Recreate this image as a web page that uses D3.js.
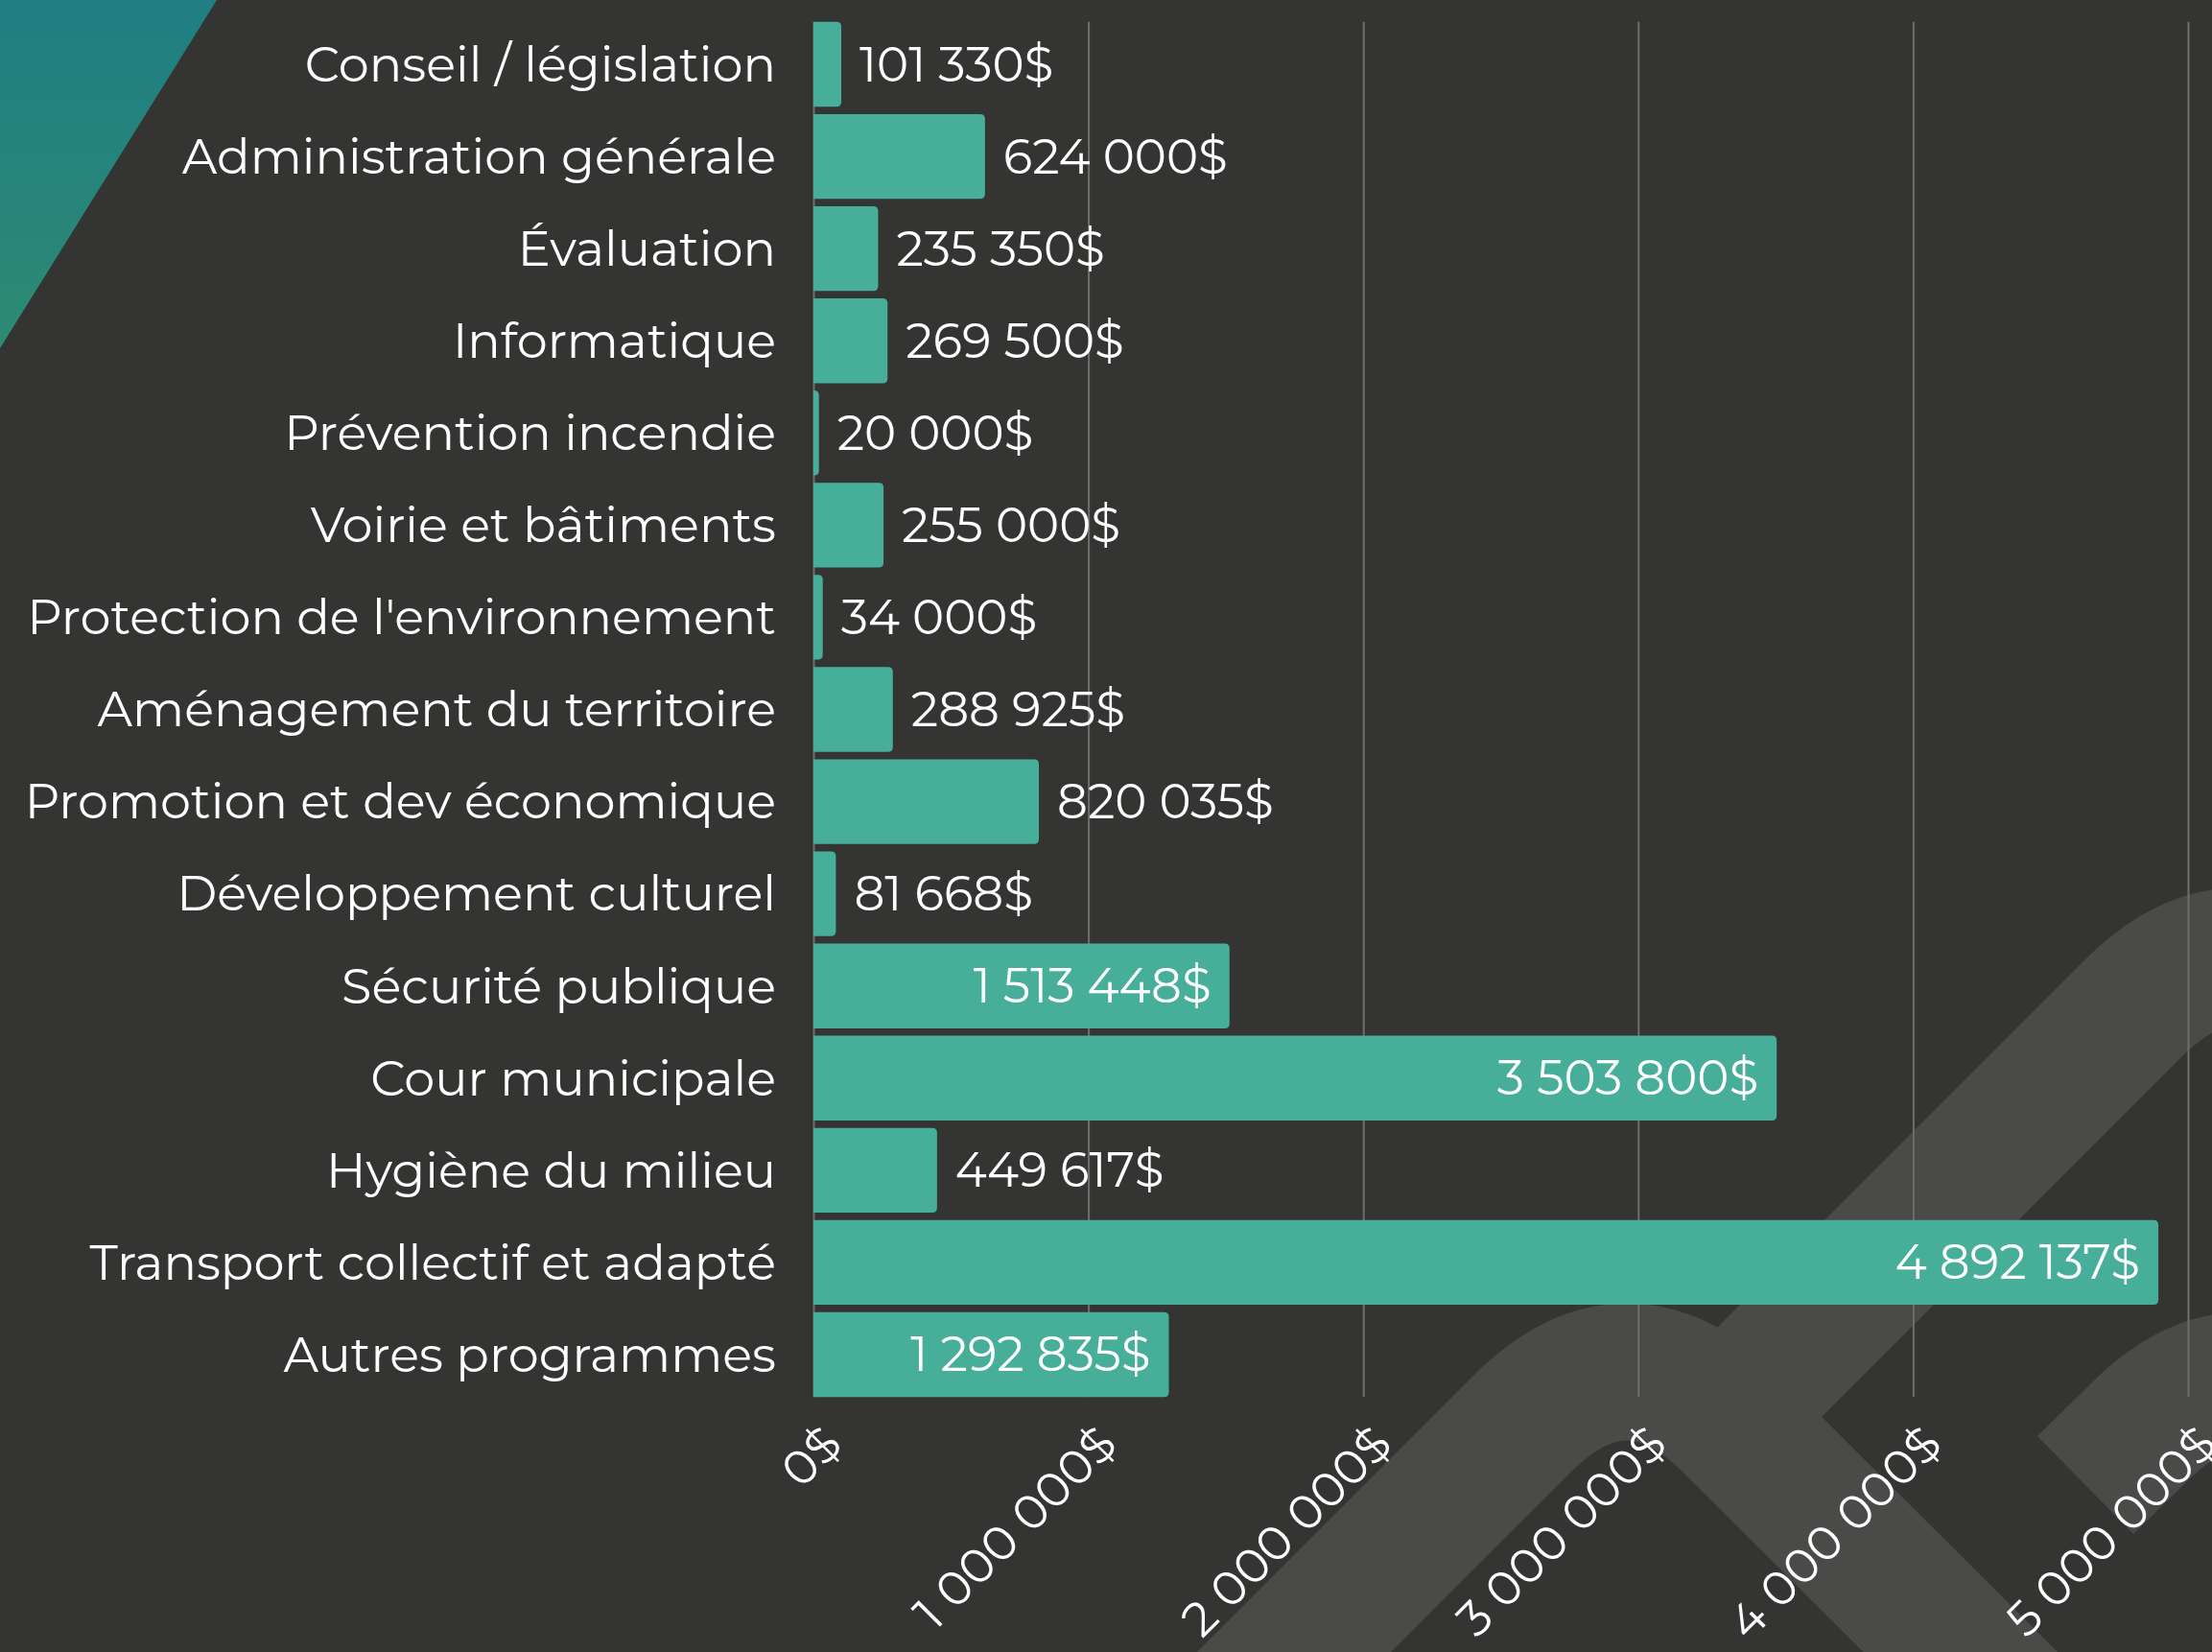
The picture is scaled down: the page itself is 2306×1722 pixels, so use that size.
<html>
<head>
<meta charset="utf-8">
<style>
  body{margin:0;background:#343433}
  svg{display:block}
  .lbl{fill:#fff;font-family:'Montserrat','Noto Sans',sans-serif;font-weight:400}
</style>
</head>
<body>
<div id="chart"></div>
<script src="https://cdn.jsdelivr.net/npm/d3@7"></script>
<script>
(function () {

  var categories = [
    'Conseil / législation', 'Administration générale', 'Évaluation',
    'Informatique', 'Prévention incendie', 'Voirie et bâtiments',
    "Protection de l'environnement", 'Aménagement du territoire',
    'Promotion et dev économique', 'Développement culturel',
    'Sécurité publique', 'Cour municipale', 'Hygiène du milieu',
    'Transport collectif et adapté', 'Autres programmes'
  ];
  var values = [101330, 624000, 235350, 269500, 20000, 255000, 34000, 288925,
                820035, 81668, 1513448, 3503800, 449617, 4892137, 1292835];
  var tickValues = [0, 1000000, 2000000, 3000000, 4000000, 5000000];

  var
    width   = 2306,
    height  = 1722,
    x0      = 848,
    x1      = 2281,
    yTop    = 19,
    yBot    = 1460,
    barCol  = '#46ae99',
    decoCol = '#4a4a49',
    rows    = categories.map(function (c, i) { return {cat: c, val: values[i]}; });

  var fr = d3.formatLocale({decimal: ',', thousands: ' ', grouping: [3], currency: ['', '$']});
  var money = fr.format('$,.0f');

  var xScale = d3.scaleLinear().domain([0, 5000000]).range([x0, x1]);
  var yScale = d3.scaleBand().domain(categories).range([yTop, yBot])
    .paddingInner(0.08).paddingOuter(0.04);

  var svg = d3.select('#chart').append('svg')
    .attr('width', width)
    .attr('height', height);

  svg.append('rect').attr('width', width).attr('height', height).attr('fill', '#343433');

  // teal corner
  var grad = svg.append('defs').append('linearGradient')
    .attr('id', 'teal').attr('x1', 0).attr('y1', 0).attr('x2', 0).attr('y2', 1);
  grad.append('stop').attr('offset', '0%').attr('stop-color', '#1f7f82');
  grad.append('stop').attr('offset', '100%').attr('stop-color', '#2d8a73');
  svg.append('path').attr('d', 'M0,0 L226,0 L0,363 Z').attr('fill', 'url(#teal)');

  // background logo strokes
  var deco = svg.append('g')
    .attr('fill', 'none')
    .attr('stroke', decoCol)
    .attr('stroke-width', 143);
  deco.append('path').attr('d', 'M1271,1800 L1586,1485 Q1696,1375 1806,1485 L2122,1800');
  deco.append('path').attr('d', 'M1798,1477 L2223,1052 Q2333,942 2443,1052 L2600,1209');
  deco.append('path').attr('d', 'M2174,1548 L2229,1494 Q2339,1384 2449,1494 L2700,1745');

  // grid + tick labels
  var plotTop = yScale(categories[0]);
  var plotBot = yScale(categories[categories.length - 1]) + yScale.bandwidth();

  var axis = d3.axisBottom(xScale)
    .tickValues(tickValues)
    .tickSize(-(plotBot - plotTop))
    .tickFormat(money);

  var ax = svg.append('g')
    .attr('transform', 'translate(0,' + plotBot + ')')
    .call(axis);
  ax.select('.domain').remove();
  ax.selectAll('.tick line')
    .attr('stroke', '#6e6e6c')
    .attr('stroke-width', 2);
  ax.selectAll('.tick text')
    .attr('class', 'lbl')
    .attr('fill', '#fff')
    .style('font-size', '50px')
    .attr('text-anchor', 'end')
    .attr('dy', null)
    .attr('y', 0)
    .attr('transform', 'translate(32,52) rotate(-45)');

  // bars, right corners rounded
  function barPath(d) {
    var l = xScale(0), r = xScale(d.val), t = yScale(d.cat), b = t + yScale.bandwidth();
    var rad = Math.min(5, r - l);
    return 'M' + l + ',' + t + ' L' + (r - rad) + ',' + t +
      ' Q' + r + ',' + t + ' ' + r + ',' + (t + rad) +
      ' L' + r + ',' + (b - rad) +
      ' Q' + r + ',' + b + ' ' + (r - rad) + ',' + b +
      ' L' + l + ',' + b + ' Z';
  }

  svg.append('g').selectAll('path')
    .data(rows)
    .join('path')
    .attr('d', barPath)
    .attr('fill', barCol);

  // category labels
  svg.append('g').selectAll('text')
    .data(rows)
    .join('text')
    .attr('class', 'lbl')
    .attr('x', x0 - 39)
    .attr('y', function (d) { return yScale(d.cat) + yScale.bandwidth() / 2; })
    .attr('dy', '0.35em')
    .attr('text-anchor', 'end')
    .style('font-size', '51px')
    .text(function (d) { return d.cat; });

  // value labels
  svg.append('g').selectAll('text')
    .data(rows)
    .join('text')
    .attr('class', 'lbl')
    .attr('x', function (d) { return d.val >= 1000000 ? xScale(d.val) - 19 : xScale(d.val) + 19; })
    .attr('y', function (d) { return yScale(d.cat) + yScale.bandwidth() / 2; })
    .attr('dy', '0.35em')
    .attr('text-anchor', function (d) { return d.val >= 1000000 ? 'end' : 'start'; })
    .style('font-size', '50px')
    .text(function (d) { return money(d.val); });

})();
</script>
</body>
</html>
